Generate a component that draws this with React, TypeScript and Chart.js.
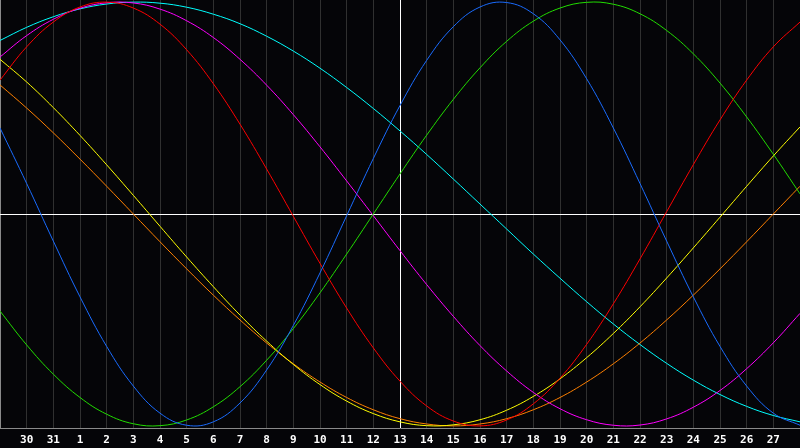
import React, { useEffect, useRef } from "react";
import { Chart, registerables } from "chart.js";

Chart.register(...registerables);

const dayLabels = [
  "29", "30", "31", "1", "2", "3", "4", "5", "6", "7", "8", "9", "10", "11", "12", "13",
  "14", "15", "16", "17", "18", "19", "20", "21", "22", "23", "24", "25", "26", "27", "28",
];

const physical = [
  0.406, 0.144, -0.128, -0.391, -0.625, -0.812, -0.94, -0.997, -0.981, -0.892, -0.736,
  -0.526, -0.278, -0.008, 0.262, 0.512, 0.725, 0.884, 0.977, 0.998, 0.945, 0.822, 0.638,
  0.406, 0.144, -0.128, -0.391, -0.625, -0.812, -0.94, -0.997,
];

const emotional = [
  0.632, 0.789, 0.906, 0.977, 1.0, 0.972, 0.896, 0.775, 0.615, 0.424, 0.212, -0.011,
  -0.233, -0.444, -0.632, -0.789, -0.906, -0.977, -1.0, -0.972, -0.896, -0.775, -0.615,
  -0.424, -0.212, 0.011, 0.233, 0.444, 0.632, 0.789, 0.906,
];

const intellectual = [
  -0.458, -0.618, -0.756, -0.866, -0.945, -0.99, -0.999, -0.972, -0.91, -0.815, -0.69,
  -0.541, -0.372, -0.189, 0.0, 0.189, 0.372, 0.541, 0.69, 0.815, 0.91, 0.972, 0.999, 0.99,
  0.945, 0.866, 0.756, 0.618, 0.458, 0.282, 0.095,
];

const intuitive = [
  0.741, 0.842, 0.919, 0.971, 0.997, 0.996, 0.967, 0.912, 0.833, 0.73, 0.608, 0.469,
  0.317, 0.156, -0.008, -0.173, -0.333, -0.483, -0.621, -0.741, -0.842, -0.919, -0.971,
  -0.997, -0.996, -0.967, -0.912, -0.833, -0.73, -0.608, -0.469,
];

const aesthetic = [
  0.73, 0.623, 0.502, 0.371, 0.232, 0.088, -0.058, -0.203, -0.343, -0.477, -0.6, -0.71,
  -0.805, -0.883, -0.942, -0.981, -0.999, -0.995, -0.971, -0.926, -0.861, -0.778, -0.678,
  -0.564, -0.438, -0.302, -0.16, -0.015, 0.131, 0.274, 0.411,
];

const awareness = [
  0.609, 0.5, 0.383, 0.259, 0.131, 0.0, -0.131, -0.259, -0.383, -0.5, -0.609, -0.707,
  -0.793, -0.866, -0.924, -0.966, -0.991, -1.0, -0.991, -0.966, -0.924, -0.866, -0.793,
  -0.707, -0.609, -0.5, -0.383, -0.259, -0.131, 0.0, 0.131,
];

const spiritual = [
  0.819, 0.881, 0.931, 0.968, 0.991, 1.0, 0.995, 0.976, 0.943, 0.898, 0.839, 0.769,
  0.688, 0.597, 0.498, 0.392, 0.281, 0.165, 0.047, -0.071, -0.189, -0.303, -0.414,
  -0.519, -0.616, -0.705, -0.784, -0.852, -0.908, -0.951, -0.981,
];

const seriesNames = ["Physical", "Emotional", "Intellectual", "Intuitive", "Aesthetic", "Awareness", "Spiritual"];
const seriesColors = ["#1a6cff", "#ff0000", "#22dd00", "#ff00ff", "#ffff00", "#ff8000", "#00ffff"];
const seriesData = [physical, emotional, intellectual, intuitive, aesthetic, awareness, spiritual];

const centerIndex = 15;

export default function App() {
  const canvasRef = useRef<HTMLCanvasElement | null>(null);

  useEffect(() => {
    document.body.style.margin = "0";
    document.body.style.background = "#050508";
    const canvas = canvasRef.current;
    if (!canvas) return;
    const chart = new Chart(canvas, {
      type: "line",
      data: {
        labels: dayLabels,
        datasets: seriesData.map((d, i) => ({
          label: seriesNames[i],
          data: d,
          borderColor: seriesColors[i],
          backgroundColor: seriesColors[i],
          borderWidth: 1,
          pointRadius: 0,
          tension: 0.4,
          fill: false,
        })),
      },
      options: {
        animation: false,
        responsive: false,
        devicePixelRatio: 1,
        layout: { padding: 0 },
        plugins: {
          legend: { display: false },
          tooltip: { enabled: false },
        },
        scales: {
          x: {
            type: "category",
            offset: false,
            afterFit: (scale: any) => {
              scale.paddingLeft = 0;
              scale.paddingRight = 0;
              scale.height = 20;
            },
            grid: {
              offset: false,
              drawTicks: false,
              lineWidth: 1,
              color: (ctx: any) => {
                if (ctx.index === centerIndex) return "#ffffff";
                if (ctx.index === 0) return "#8a8a8a";
                return "#303030";
              },
            },
            border: { display: true, color: "#8a8a8a", width: 1 },
            ticks: {
              autoSkip: false,
              maxRotation: 0,
              minRotation: 0,
              padding: 6,
              color: "#ffffff",
              font: { family: "'DejaVu Sans Mono', monospace", size: 11, weight: "bold" },
              callback: (_v: any, index: number) =>
                index === 0 || index === dayLabels.length - 1 ? "" : dayLabels[index],
            },
          },
          y: {
            min: -1.01,
            max: 1.01,
            afterFit: (scale: any) => {
              scale.width = 0;
            },
            afterBuildTicks: (scale: any) => {
              scale.ticks = [{ value: 0 }];
            },
            grid: {
              drawTicks: false,
              color: "#ffffff",
              lineWidth: 1,
            },
            border: { display: false },
            ticks: { display: false },
          },
        },
      },
    });
    return () => chart.destroy();
  }, []);

  return (
    <div style={{ width: 800, height: 448, background: "#050508" }}>
      <canvas ref={canvasRef} width={800} height={448} style={{ display: "block" }} />
    </div>
  );
}
